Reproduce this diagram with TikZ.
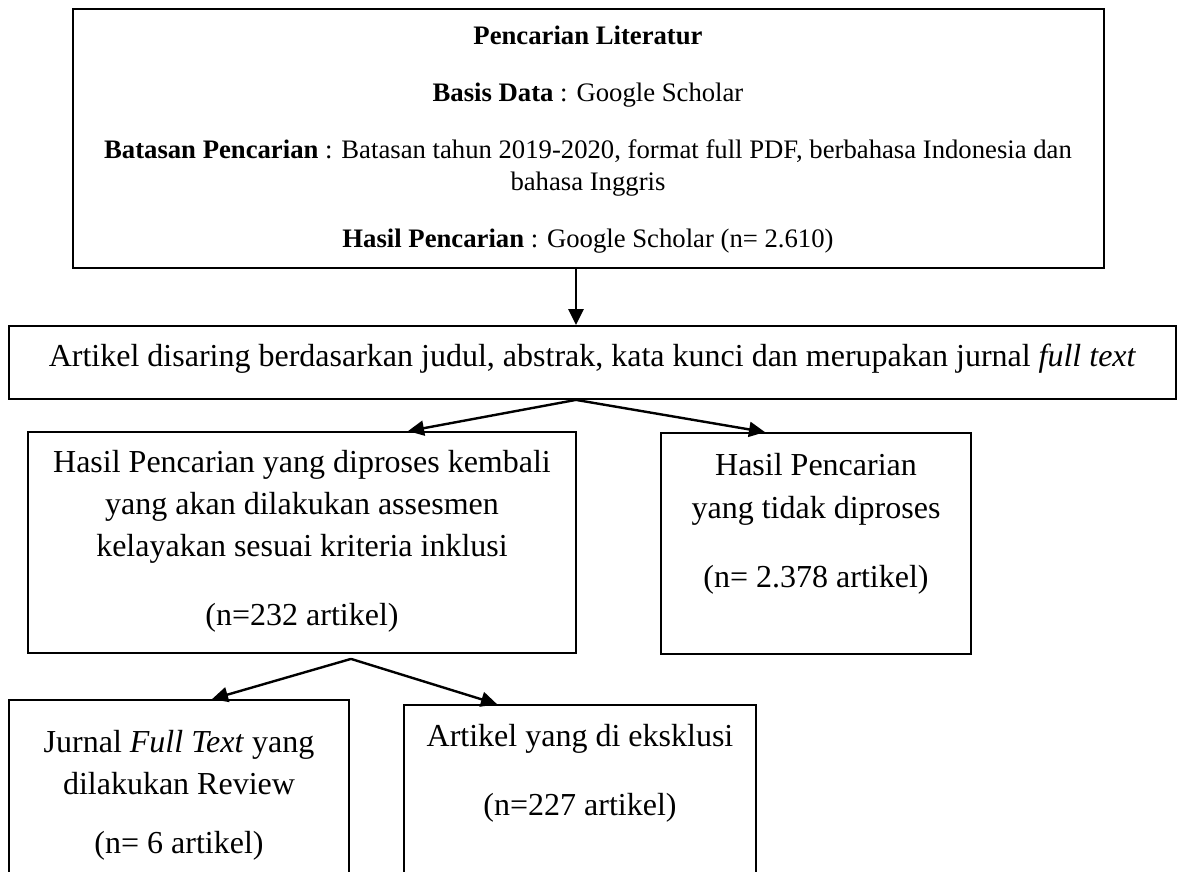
\documentclass[tikz,border=0pt]{standalone}
\usepackage{fontspec}
\setmainfont{Liberation Serif}
\usetikzlibrary{arrows.meta}
\tikzset{
  box/.style={draw, line width=1.8pt, inner sep=0pt},
  arr/.style={-{Triangle[length=16pt,width=15pt]}, line width=2.4pt},
  small/.style={font=\fontsize{26.7}{32}\selectfont, inner sep=0pt, anchor=base},
  big/.style={font=\fontsize{32}{42}\selectfont, inner sep=0pt, anchor=base},
}
\begin{document}
\begin{tikzpicture}[x=1pt,y=-1pt]
\useasboundingbox (0,0) rectangle (1178,872);
\clip (0,0) rectangle (1178,872);
\fill[white] (0,0) rectangle (1178,872);

% boxes
\node[box, minimum width=1031pt, minimum height=259pt] (top) at (588.5,138.5) {};
\node[box, minimum width=1167pt, minimum height=73pt] (filt) at (592.5,362.5) {};
\node[box, minimum width=548pt, minimum height=221pt] (incl) at (302,542.5) {};
\node[box, minimum width=310pt, minimum height=221pt] (notp) at (816,543.5) {};
\node[box, minimum width=340pt, minimum height=200pt] (rev) at (179,800) {};
\node[box, minimum width=352pt, minimum height=200pt] (eks) at (580,805) {};

% top box text
\node[small] (t1) at (588,45) {\textbf{Pencarian Literatur}};
\node[small] (t2) at (588,102) {\textbf{Basis Data} : Google Scholar};
\node[small] (t3) at (588,158) {\textbf{Batasan Pencarian} : Batasan tahun 2019-2020, format full PDF, berbahasa Indonesia dan};
\node[small] (t4) at (588,190) {bahasa Inggris};
\node[small] (t5) at (588,247) {\textbf{Hasil Pencarian} : Google Scholar (n= 2.610)};

% filter box text
\node[big] (f1) at (592.5,366) {Artikel disaring berdasarkan judul, abstrak, kata kunci dan merupakan jurnal \textit{full text}};

% inclusion box text
\node[big] (i1) at (302,472) {Hasil Pencarian yang diproses kembali};
\node[big] (i2) at (302,514) {yang akan dilakukan assesmen};
\node[big] (i3) at (302,556) {kelayakan sesuai kriteria inklusi};
\node[big] (i4) at (302,625) {(n=232 artikel)};

% not processed box text
\node[big] (n1) at (816,475) {Hasil Pencarian};
\node[big] (n2) at (816,518) {yang tidak diproses};
\node[big] (n3) at (816,587) {(n= 2.378 artikel)};

% review box text
\node[big] (r1) at (179,752) {Jurnal \textit{Full Text} yang};
\node[big] (r2) at (179,794) {dilakukan Review};
\node[big] (r3) at (179,853) {(n= 6 artikel)};

% excluded box text
\node[big] (e1) at (580,746) {Artikel yang di eksklusi};
\node[big] (e2) at (580,815) {(n=227 artikel)};

% connectors
\draw[arr] ([xshift=-12.5pt]top.south) -- ([xshift=-16.5pt]filt.north);
\draw[arr] ([xshift=-16.5pt]filt.south) -- ([xshift=106pt]incl.north);
\draw[arr] ([xshift=-16.5pt]filt.south) -- ([xshift=-51pt]notp.north);
\draw[arr] ([xshift=49pt,yshift=-5pt]incl.south) -- ([xshift=33pt]rev.north);
\draw[arr] ([xshift=49pt,yshift=-5pt]incl.south) -- ([xshift=-83pt]eks.north);
\end{tikzpicture}
\end{document}
